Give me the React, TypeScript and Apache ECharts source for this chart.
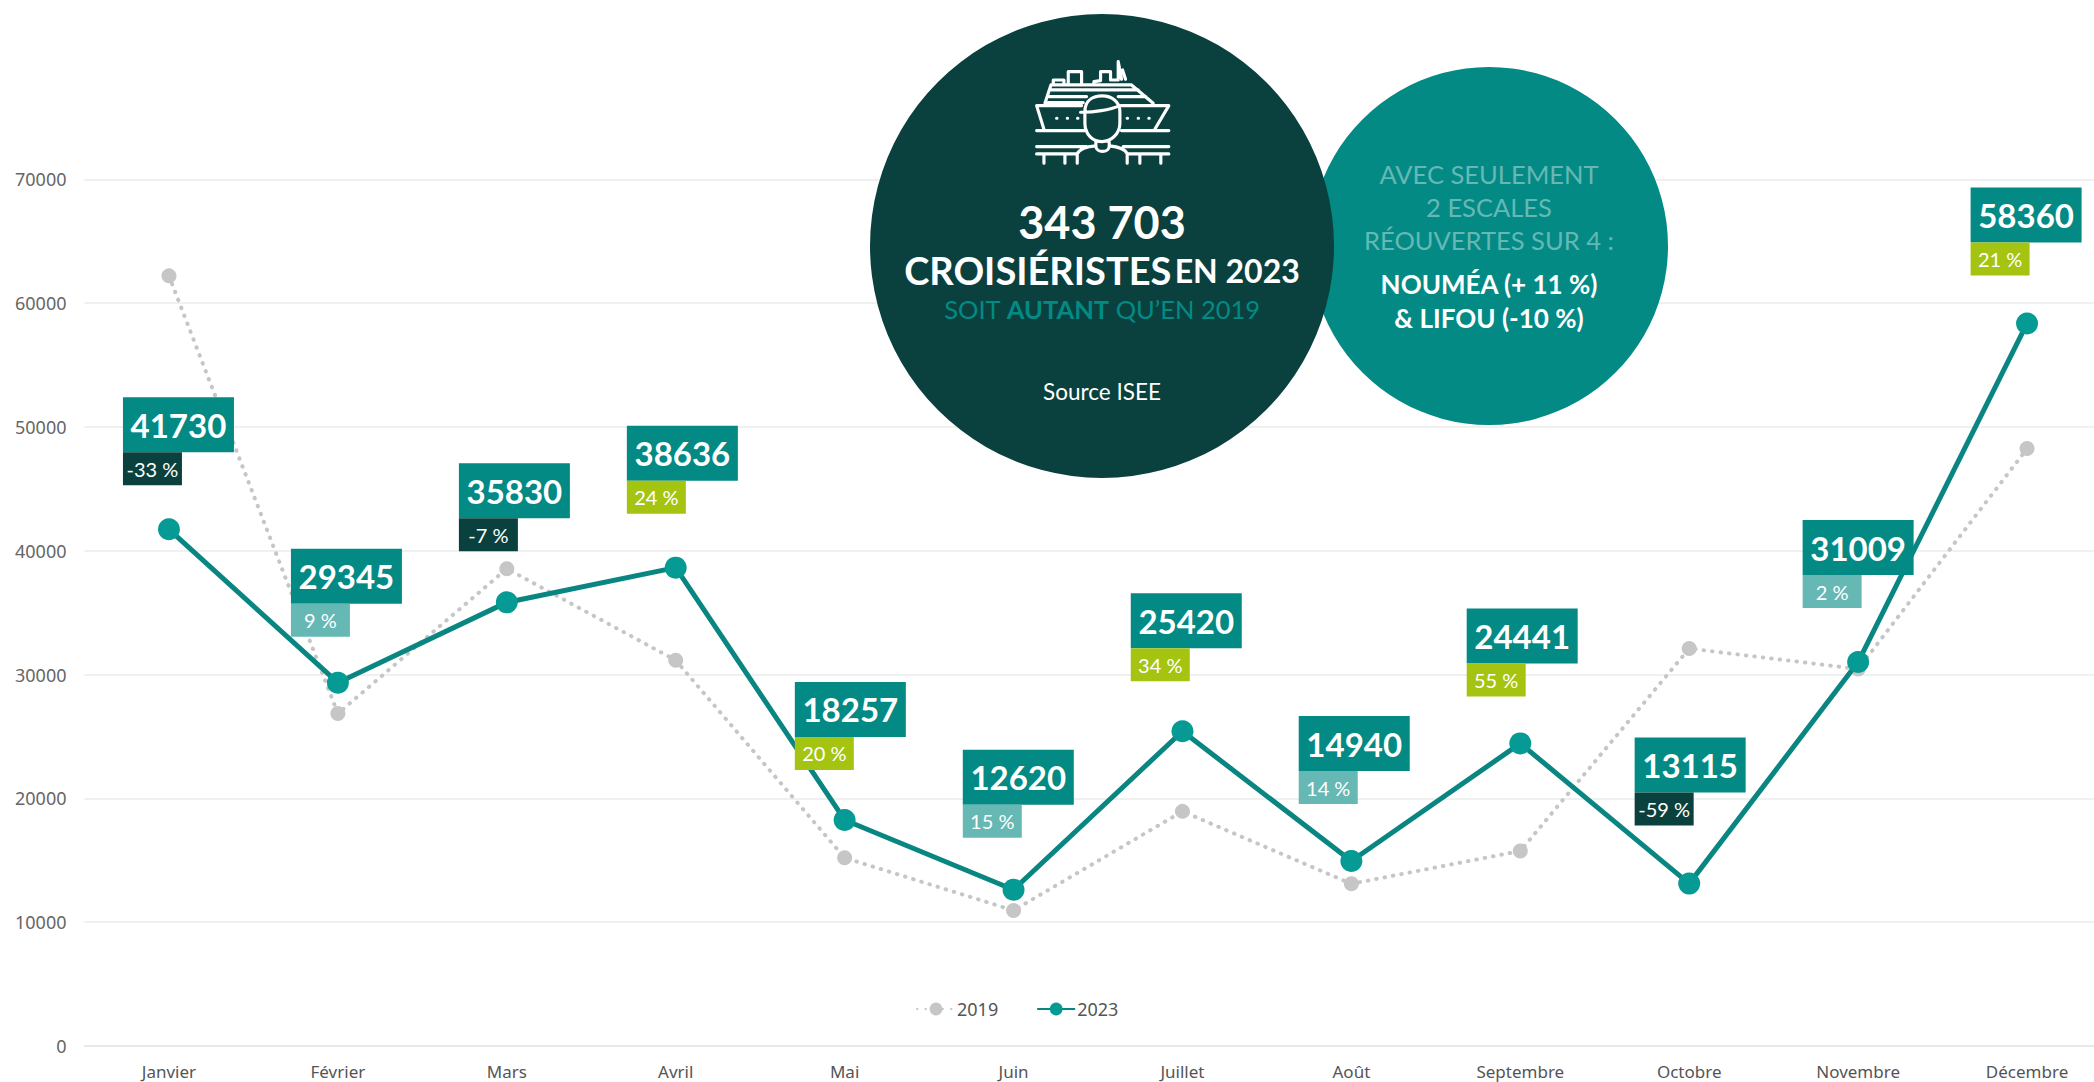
import React, { useEffect, useRef } from "react";
import * as echarts from "echarts";

const months = ["Janvier", "Février", "Mars", "Avril", "Mai", "Juin", "Juillet", "Août", "Septembre", "Octobre", "Novembre", "Décembre"];
const values2019 = [62200, 26850, 38550, 31150, 15200, 10950, 18950, 13100, 15750, 32100, 30450, 48250];
const values2023 = [41730, 29345, 35830, 38636, 18257, 12620, 25420, 14940, 24441, 13115, 31009, 58360];
const changes = ["-33 %", "9 %", "-7 %", "24 %", "20 %", "15 %", "34 %", "14 %", "55 %", "-59 %", "2 %", "21 %"];
const changeKinds = ["down", "mid", "down", "up", "up", "mid", "up", "mid", "up", "down", "mid", "up"];
const boxLift = [132, 134, 139, 142, 138, 140, 138, 145, 135, 146, 142, 136];

const TEAL = "#038a85";
const DARK = "#0a413e";
const LIME = "#a5c412";
const PALE = "#66b8b5";
const kindColor: Record<string, string> = { down: DARK, mid: PALE, up: LIME };
const FONT = '"Noto Sans", sans-serif';
const INFO = 'Lato, "Noto Sans", sans-serif';

const iconPath =
  "M275 197H140L162 268M395 197H537L495 268M140 272H290M395 272H537" +
  "M140 320H290M400 320H537M140 342H262M412 342H537" +
  "M162 342V370M225 342V370M262 342V370M412 342V370M450 342V370M513 342V370" +
  "M200 235h1M232 235h1M263 235h1M412 235h1M445 235h1M477 235h1" +
  "M165 190L183 135H425L490 190M183 150H445M177 170H290M170 188H280M385 170H468" +
  "M190 135V120H222V135M235 135V95H275V135M312 135V125L332 122V95H362V120H385M385 65L395 118M385 65V118M398 90L407 118" +
  "M285 215C285 180 310 168 337 168C365 168 390 185 390 215L390 250C390 285 360 305 337 305C310 305 285 285 285 250Z" +
  "M272 217C310 218 360 210 390 197M318 305V318C318 340 358 340 358 318V305" +
  "M262 342C270 325 290 320 318 318M358 318C380 320 405 325 412 342";

echarts.graphic.registerShape("shipIcon", echarts.graphic.extendPath(iconPath, {}));

function text(x: number, y: number, t: string, fontSize: number, fill: string, fontWeight: any = 400) {
  return {
    type: "text",
    x,
    y,
    z: 30,
    style: { text: t, x: 0, y: 0, fontSize, fill, fontWeight, fontFamily: INFO, align: "center", verticalAlign: "middle" },
  };
}

export default function App() {
  const ref = useRef<HTMLDivElement>(null);
  useEffect(() => {
    document.body.style.margin = "0";
    const chart = echarts.init(ref.current!, undefined, { renderer: "svg" });
    chart.setOption({
      animation: false,
      backgroundColor: "#ffffff",
      grid: { left: 84.5, top: 179.3, width: 2027, height: 866.7 },
      legend: {
        left: 911,
        top: 995,
        itemWidth: 38,
        itemHeight: 16,
        itemGap: 38,
        data: ["2019", "2023"],
        textStyle: { fontSize: 18, color: "#555555", fontFamily: FONT, padding: [0, 0, 0, -3] },
      },
      xAxis: {
        type: "category",
        data: months,
        boundaryGap: true,
        axisTick: { show: false },
        axisLine: { lineStyle: { color: "#e8e8e8", width: 2 } },
        axisLabel: { fontSize: 17, color: "#555555", fontFamily: FONT, margin: 17 },
      },
      yAxis: {
        type: "value",
        min: 0,
        max: 70000,
        interval: 10000,
        axisLine: { show: false },
        axisTick: { show: false },
        splitLine: { lineStyle: { color: "#f0f0f0", width: 2 } },
        axisLabel: { fontSize: 18, color: "#666666", fontFamily: FONT, margin: 18, formatter: (v: number) => String(v) },
      },
      series: [
        {
          name: "2019",
          type: "line",
          data: values2019,
          z: 2,
          symbol: "circle",
          symbolSize: 15,
          itemStyle: { color: "#c6c6c6" },
          lineStyle: { color: "#c6c6c6", width: 4, type: [0.5, 8], cap: "round" },
        },
        {
          name: "2023",
          type: "line",
          data: values2023,
          z: 3,
          symbol: "circle",
          symbolSize: 22,
          itemStyle: { color: "#069a94" },
          lineStyle: { color: "#0a8682", width: 5 },
        },
        {
          name: "Étiquettes",
          type: "custom",
          z: 5,
          clip: false,
          data: values2023.map((v, i) => [i, v]),
          encode: { x: 0, y: 1 },
          renderItem: (params: any, api: any) => {
            const i = params.dataIndex;
            const p = api.coord([api.value(0), api.value(1)]);
            const left = p[0] - 46 - 0.95 * i;
            const top = p[1] - boxLift[i];
            return {
              type: "group",
              children: [
                { type: "rect", shape: { x: left, y: top, width: 111, height: 55 }, style: { fill: TEAL } },
                { type: "rect", shape: { x: left, y: top + 55, width: 59, height: 33 }, style: { fill: kindColor[changeKinds[i]] } },
                {
                  type: "text",
                  style: {
                    text: String(values2023[i]),
                    x: left + 55.5,
                    y: top + 27.5,
                    fill: "#ffffff",
                    fontSize: 33,
                    fontWeight: 700,
                    fontFamily: INFO,
                    align: "center",
                    verticalAlign: "middle",
                  },
                },
                {
                  type: "text",
                  style: {
                    text: changes[i],
                    x: left + 29.5,
                    y: top + 71.5,
                    fill: "#ffffff",
                    fontSize: 20,
                    fontFamily: INFO,
                    align: "center",
                    verticalAlign: "middle",
                  },
                },
              ],
            };
          },
        },
      ],
      graphic: [
        { type: "circle", z: 20, shape: { cx: 1489, cy: 246, r: 179 }, style: { fill: TEAL } },
        { type: "circle", z: 21, shape: { cx: 1102, cy: 246, r: 232 }, style: { fill: DARK } },
        {
          type: "shipIcon",
          x: 990,
          y: 40,
          scaleX: 1 / 3,
          scaleY: 1 / 3,
          z: 25,
          style: { fill: "none", stroke: "#ffffff", lineWidth: 9.5, lineCap: "round", lineJoin: "round" },
        },
        text(1102, 222, "343 703", 45, "#ffffff", 700),
        {
          type: "text",
          x: 1102,
          y: 270,
          z: 30,
          style: {
            text: "{a|CROISIÉRISTES} {b|EN 2023}",
            align: "center",
            verticalAlign: "middle",
            rich: {
              a: { fontSize: 38, fontWeight: 700, fill: "#ffffff", fontFamily: INFO },
              b: { fontSize: 32, fontWeight: 700, fill: "#ffffff", fontFamily: INFO },
            },
          },
        },
        {
          type: "text",
          x: 1102,
          y: 309,
          z: 30,
          style: {
            text: "{a|SOIT }{b|AUTANT}{a| QU’EN 2019}",
            align: "center",
            verticalAlign: "middle",
            rich: {
              a: { fontSize: 25.5, fontWeight: 400, fill: TEAL, fontFamily: INFO },
              b: { fontSize: 25.5, fontWeight: 700, fill: TEAL, fontFamily: INFO },
            },
          },
        },
        text(1102, 391, "Source ISEE", 22.5, "#ffffff"),
        text(1489, 174, "AVEC SEULEMENT", 25.5, PALE, 400),
        text(1489, 207, "2 ESCALES", 25.5, PALE, 400),
        text(1489, 240, "RÉOUVERTES SUR 4 :", 25.5, PALE, 400),
        text(1489, 284, "NOUMÉA (+ 11 %)", 26, "#ffffff", 700),
        text(1489, 318, "& LIFOU (-10 %)", 26, "#ffffff", 700),
      ],
    });
    return () => chart.dispose();
  }, []);
  return (
    <div style={{ position: "absolute", left: 0, top: 0, width: 2094, height: 1082, overflow: "hidden" }}>
      <div ref={ref} style={{ width: 2112, height: 1082 }} />
    </div>
  );
}
